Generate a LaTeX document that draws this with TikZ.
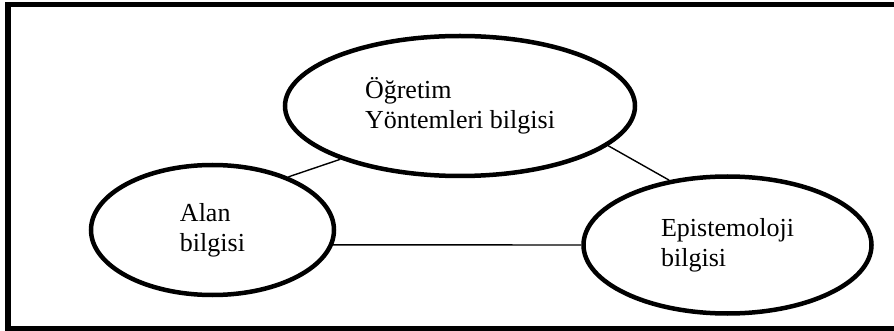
\documentclass[tikz,border=0pt]{standalone}
\usepackage{fontspec}
\setmainfont{Liberation Serif}
\usetikzlibrary{shapes.geometric}

\begin{document}
\begin{tikzpicture}[x=1pt, y=-1pt,
    bilgi/.style={draw, ellipse, line width=4.5pt, inner sep=0pt, align=left,
      font=\fontsize{26}{30}\selectfont},
    bag/.style={line width=1.4pt}]
      \clip (0, 0) rectangle (894, 331);
      \draw[line width=5.5pt] (900, 4.5) -- (8, 4.5) -- (8, 329) -- (900, 329);
      \node[bilgi, minimum width=350pt, minimum height=140pt] (ogretim) at (460, 106) {Öğretim\\Yöntemleri bilgisi};
      \node[bilgi, minimum width=243pt, minimum height=130pt] (alan) at (212.5, 230) {Alan\\bilgisi};
      \node[bilgi, minimum width=288pt, minimum height=137pt] (epist) at (727.5, 245) {Epistemoloji\\bilgisi};
      \path[bag] (alan.35) edge (ogretim.204);
      \path[bag] (ogretim.-15) edge (epist.132);
      \path[bag] (alan.-7) edge (epist.west);
    \end{tikzpicture}
\end{document}
